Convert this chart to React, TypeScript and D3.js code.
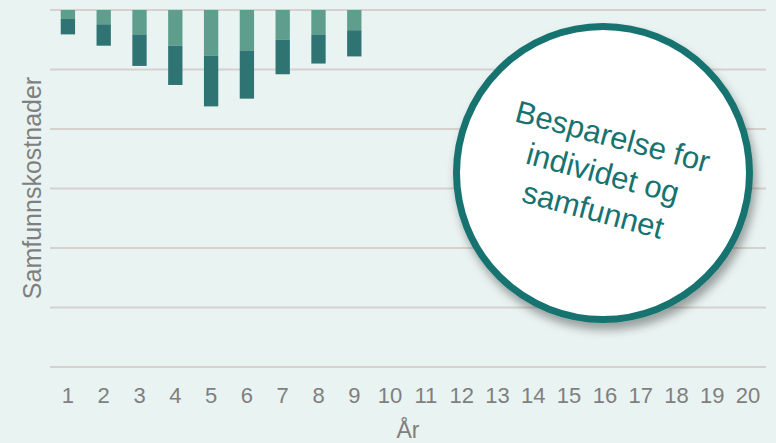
import * as d3 from 'd3'
import React, { useRef, useEffect } from 'react'

// chart values (arbitrary cost units, 100 per gridline)
const years = d3.range(1, 21).map(String)
const lightValues = [15, 24, 41, 60, 77, 68, 50, 41, 34]
const darkValues = [26, 36, 53, 66, 85, 81, 58, 49, 44]
const gridValues = [0, 100, 200, 300, 400, 500, 600]
const circleLines = ['Besparelse for', 'individet og', 'samfunnet']

const W = 776
const H = 443
const FONT = "'Liberation Sans', Arial, Helvetica, sans-serif"

const App = () => {
  const myRef = useRef<SVGSVGElement>(null)

  useEffect(() => {
    const svg = d3.select(myRef.current)
    svg.selectAll('*').remove()

    const x = d3.scaleBand().domain(years).range([50, 766]).paddingInner(0.6).paddingOuter(0.3)
    const y = d3.scaleLinear().domain([0, 600]).range([10, 367])

    svg.append('rect').attr('width', W).attr('height', H).attr('fill', '#e9f3f1')

    const defs = svg.append('defs')
    const f = defs.append('filter').attr('id', 'shadow').attr('x', '-20%').attr('y', '-20%')
      .attr('width', '150%').attr('height', '150%')
    f.append('feDropShadow').attr('dx', 3).attr('dy', 7).attr('stdDeviation', 5)
      .attr('flood-color', '#000').attr('flood-opacity', 0.35)

    // gridlines
    svg.append('g').selectAll('line')
      .data(gridValues)
      .enter().append('line')
      .attr('x1', 50).attr('x2', 766)
      .attr('y1', d => y(d)).attr('y2', d => y(d))
      .attr('stroke', '#d6d1cf').attr('stroke-width', 2)

    // stacked bars hanging from zero
    const rows = lightValues.map((v, i) => ({ year: years[i], light: v, dark: darkValues[i] }))
    const stack = d3.stack<any>().keys(['light', 'dark'])
    const colors: Record<string, string> = { light: '#5f9e8c', dark: '#307373' }
    svg.append('g').selectAll('g')
      .data(stack(rows))
      .enter().append('g')
      .attr('fill', d => colors[d.key])
      .selectAll('rect')
      .data(d => d)
      .enter().append('rect')
      .attr('x', d => x(d.data.year)!)
      .attr('width', x.bandwidth())
      .attr('y', d => y(d[0]))
      .attr('height', d => y(d[1]) - y(d[0]))

    // x tick labels
    svg.append('g').selectAll('text')
      .data(years)
      .enter().append('text')
      .attr('x', d => x(d)! + x.bandwidth() / 2)
      .attr('y', 403)
      .attr('text-anchor', 'middle')
      .attr('font-family', FONT)
      .attr('font-size', 22)
      .attr('fill', '#7f7f7f')
      .text(d => d)

    svg.append('text')
      .attr('x', 408).attr('y', 438)
      .attr('text-anchor', 'middle')
      .attr('font-family', FONT)
      .attr('font-size', 23)
      .attr('fill', '#7f7f7f')
      .text('År')

    svg.append('text')
      .attr('transform', 'translate(41,188) rotate(-90)')
      .attr('text-anchor', 'middle')
      .attr('font-family', FONT)
      .attr('font-size', 25)
      .attr('fill', '#7f7f7f')
      .text('Samfunnskostnader')

    // callout circle
    const c = svg.append('g').attr('transform', 'translate(603,173)')
    c.append('circle').attr('r', 146.5).attr('fill', '#fff')
      .attr('stroke', '#167370').attr('stroke-width', 7).attr('filter', 'url(#shadow)')
    const t = c.append('g').attr('transform', 'rotate(15)')
    t.selectAll('text')
      .data(circleLines)
      .enter().append('text')
      .attr('y', (d, i) => (i - 1) * 38)
      .attr('dy', '0.35em')
      .attr('text-anchor', 'middle')
      .attr('font-family', FONT)
      .attr('font-size', 31)
      .attr('fill', '#167370')
      .text(d => d)
  }, [])

  return (
    <div style={{ position: 'fixed', left: 0, top: 0 }}>
      <svg ref={myRef} width={W} height={H} style={{ display: 'block' }}></svg>
    </div>
  )
}

export default App
